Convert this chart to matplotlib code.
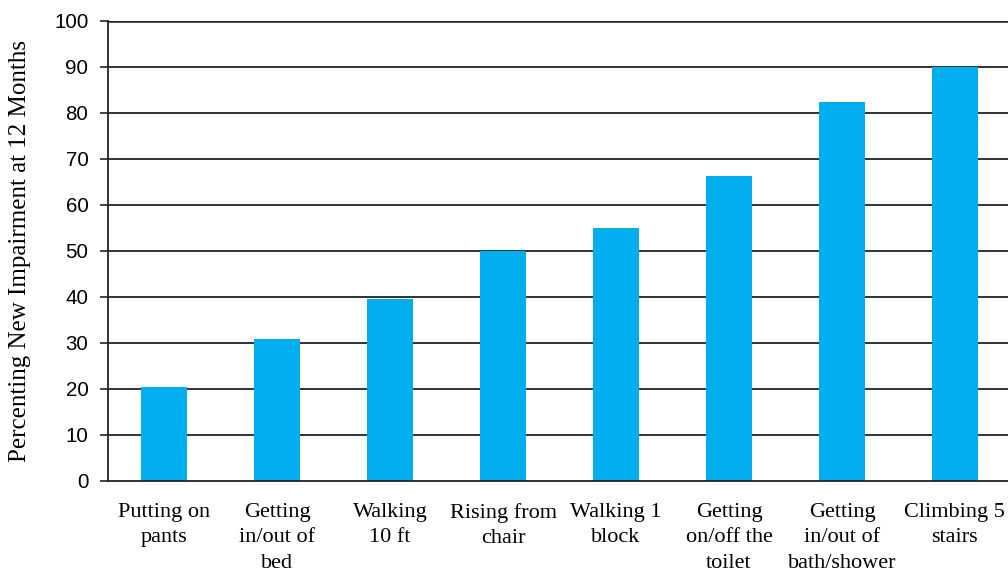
import matplotlib.pyplot as plt
import numpy as np

# Activities and the share with new impairment at 12 months
activities = ["Putting on\npants", "Getting\nin/out of\nbed", "Walking\n10 ft",
              "Rising from\nchair", "Walking 1\nblock", "Getting\non/off the\ntoilet",
              "Getting\nin/out of\nbath/shower", "Climbing 5\nstairs"]
percent_new = [20.4, 30.9, 39.5, 50.1, 55.0, 66.3, 82.4, 90.0]
y_ticks = list(range(0, 101, 10))

BAR_COLOR = '#00AEEF'
LINE_COLOR = '#222222'

fig = plt.figure(figsize=(10.08, 5.73), dpi=100)
ax = fig.add_axes([0.107, 0.1606, 0.893, 0.8028])

x = np.arange(len(activities))
ax.bar(x, percent_new, width=0.41, color=BAR_COLOR, zorder=3)

# horizontal grid lines behind the bars
for t in y_ticks[1:-1]:
    ax.axhline(t, color=LINE_COLOR, lw=1.3, zorder=1)
ax.axhline(100, color=LINE_COLOR, lw=1.8, zorder=1)

ax.set_xlim(-0.5, 7.47)
ax.set_ylim(0, 100)
ax.set_yticks(y_ticks)
ax.set_yticklabels([str(t) for t in y_ticks], fontfamily='Liberation Sans', fontsize=14.8)
ax.tick_params(axis='y', length=6, width=1.2, color=LINE_COLOR, pad=8)

ax.set_xticks(x)
ax.set_xticklabels(activities, fontfamily='Liberation Serif', fontsize=16, linespacing=1.45, va='top')
ax.tick_params(axis='x', length=0, pad=16)

# y label placed in figure coordinates
fig.text(20 / 1008, 1 - 251 / 573, "Percenting New Impairment at 12 Months",
         fontfamily='Liberation Serif', fontsize=18, rotation=90, ha='center', va='center')

for side in ['top', 'right']:
    ax.spines[side].set_visible(False)
ax.spines['left'].set_color(LINE_COLOR)
ax.spines['left'].set_linewidth(1.3)
ax.spines['bottom'].set_color(LINE_COLOR)
ax.spines['bottom'].set_linewidth(1.3)
ax.spines['bottom'].set_zorder(4)

fig.savefig('out.png', dpi=100)
